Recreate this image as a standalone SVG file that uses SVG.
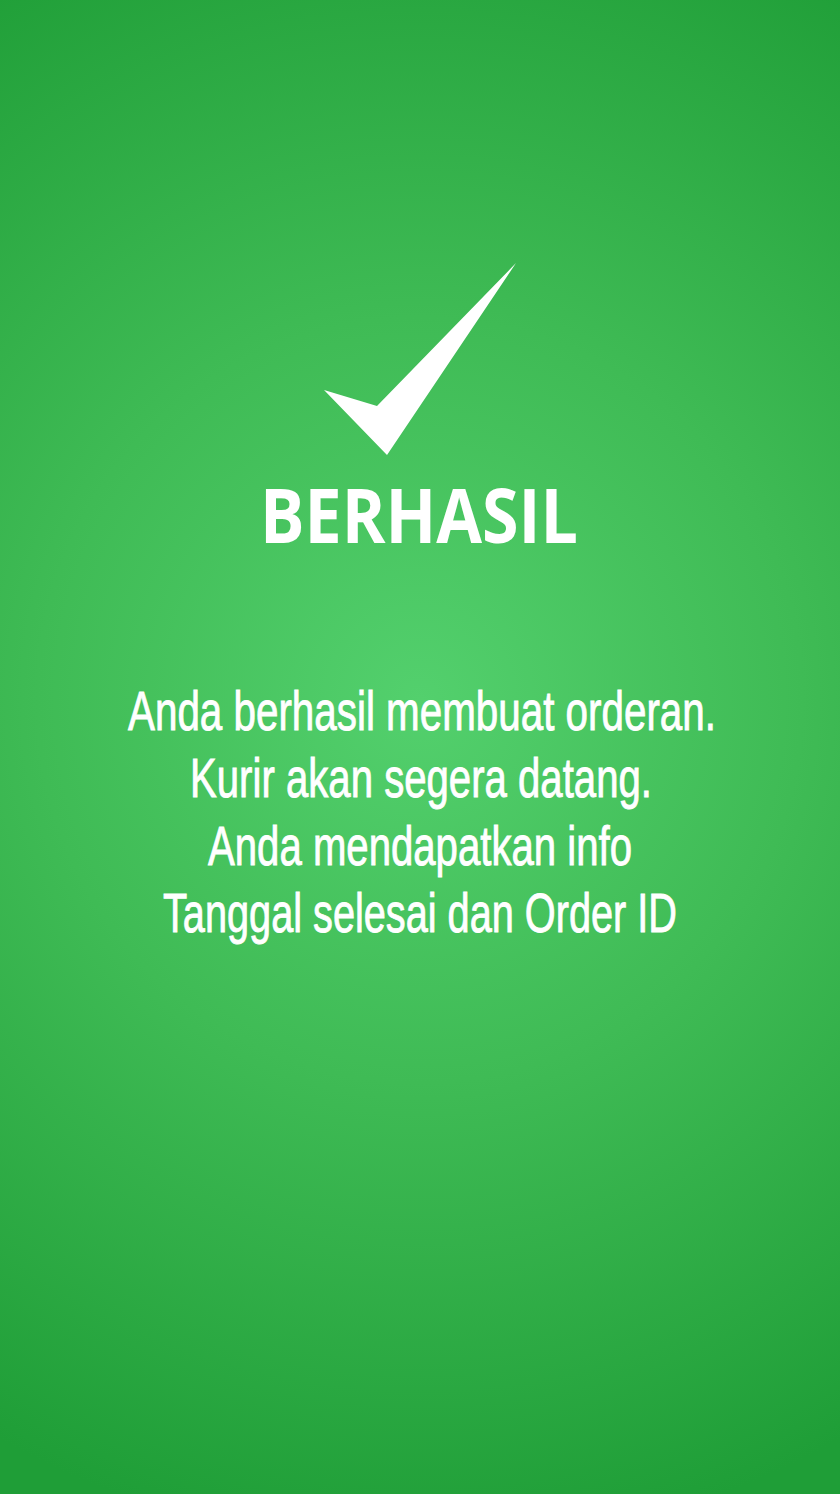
<svg xmlns="http://www.w3.org/2000/svg" width="840" height="1494" viewBox="0 0 840 1494">
  <defs>
    <radialGradient id="bg" cx="420" cy="700" r="850" gradientUnits="userSpaceOnUse">
      <stop offset="0" stop-color="#53d06d"/>
      <stop offset="0.45" stop-color="#3fbb55"/>
      <stop offset="1" stop-color="#1f9e37"/>
    </radialGradient>
  </defs>
  <style>
    .title { font-family: "Open Sans", "Liberation Sans", sans-serif; font-weight: 700; font-size: 76px; fill: #ffffff; }
    .body { font-family: "Liberation Sans", Arial, sans-serif; font-size: 56px; fill: #ffffff; stroke: #ffffff; stroke-width: 0.9px; }
  </style>
  <rect id="background" x="0" y="0" width="840" height="1494" fill="url(#bg)"/>
  <g id="checkmark">
    <polygon points="516,263 377,406 324,390 387,455" fill="#ffffff"/>
  </g>
  <g id="title">
    <text class="title" x="419" y="543" text-anchor="middle" textLength="318" lengthAdjust="spacingAndGlyphs">BERHASIL</text>
  </g>
  <g id="message">
    <text class="body" x="422" y="730" text-anchor="middle" textLength="588" lengthAdjust="spacingAndGlyphs">Anda berhasil membuat orderan.</text>
    <text class="body" x="421" y="797" text-anchor="middle" textLength="462" lengthAdjust="spacingAndGlyphs">Kurir akan segera datang.</text>
    <text class="body" x="420" y="865" text-anchor="middle" textLength="424" lengthAdjust="spacingAndGlyphs">Anda mendapatkan info</text>
    <text class="body" x="420" y="932" text-anchor="middle" textLength="514" lengthAdjust="spacingAndGlyphs">Tanggal selesai dan Order ID</text>
  </g>
</svg>
